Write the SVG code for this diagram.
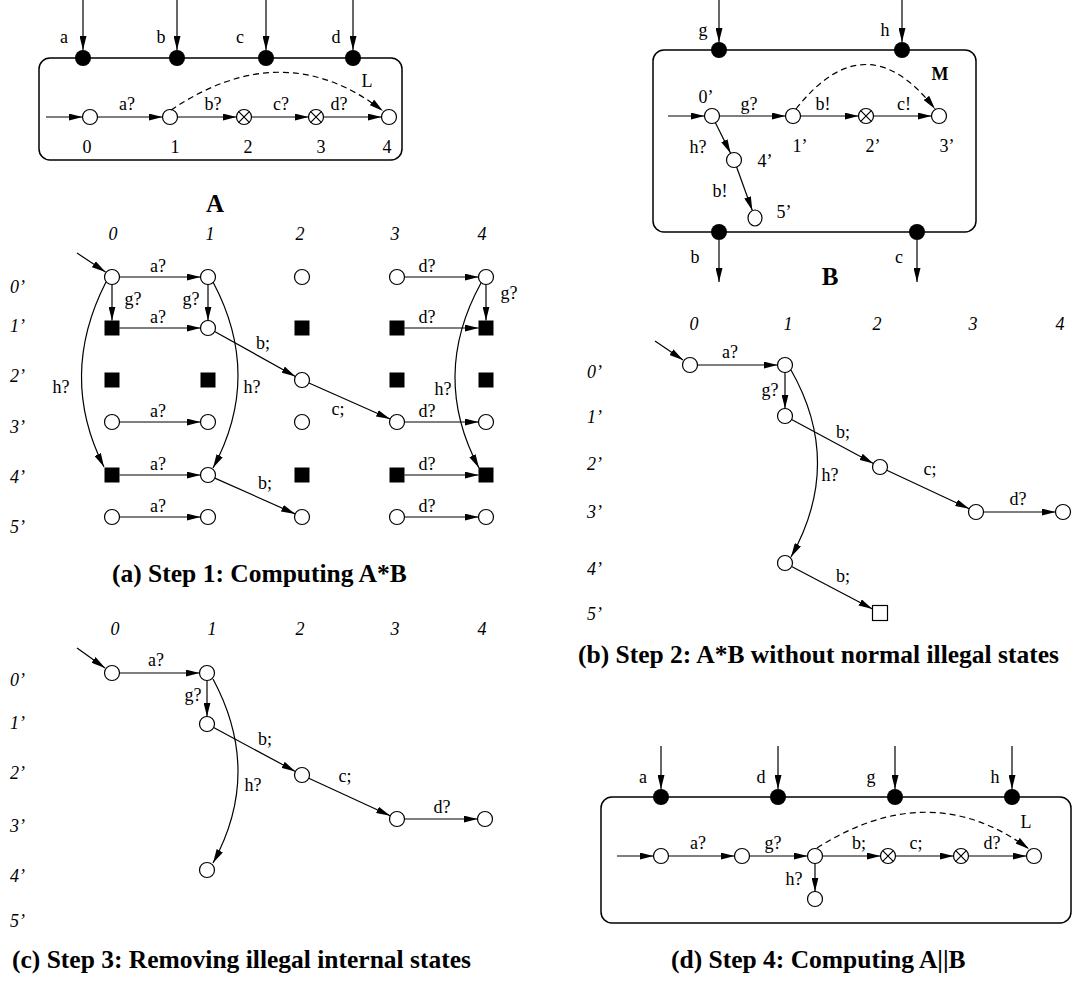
<svg xmlns="http://www.w3.org/2000/svg" width="1085" height="983" viewBox="0 0 1085 983">
<defs>
<marker id="ah" markerUnits="userSpaceOnUse" markerWidth="14" markerHeight="7" refX="14" refY="3.5" orient="auto"><path d="M0,0 L14,3.5 L0,7 z" fill="#000"/></marker>
<style>
.t{font-family:"Liberation Serif","Times New Roman",serif;font-size:18px;fill:#000;text-anchor:middle}
.st{text-anchor:start}
.i{font-style:italic}
.bd{font-weight:bold}
.big{font-size:25px;font-weight:bold}
.cap{font-family:"Liberation Serif","Times New Roman",serif;font-size:25.5px;font-weight:bold;fill:#000}
.box{fill:none;stroke:#000;stroke-width:1.5}
.e{fill:none;stroke:#000;stroke-width:1.2;marker-end:url(#ah)}
.dash{fill:none;stroke:#000;stroke-width:1.2;stroke-dasharray:6 4;marker-end:url(#ah)}
.s{fill:#fff;stroke:#000;stroke-width:1.2}
.f{fill:#000}
.x{fill:none;stroke:#000;stroke-width:1.2}
</style>
</defs>
<rect width="1085" height="983" fill="#fff"/>

<!-- ===== Box A ===== -->
<g id="boxA">
<rect class="box" x="39" y="58" width="363" height="102" rx="11"/>
<circle class="f" cx="83" cy="58" r="8"/><circle class="f" cx="177" cy="58" r="8"/><circle class="f" cx="266" cy="58" r="8"/><circle class="f" cx="353" cy="58" r="8"/>
</g>
<g id="A0"><circle class="s" cx="90" cy="117" r="7.5"/></g>
<g id="A1"><circle class="s" cx="170" cy="117" r="7.5"/></g>
<g id="A2"><circle class="s" cx="244" cy="117" r="7.5"/><path class="x" d="M238.7,111.7 L249.3,122.3 M238.7,122.3 L249.3,111.7"/></g>
<g id="A3"><circle class="s" cx="316" cy="117" r="7.5"/><path class="x" d="M310.7,111.7 L321.3,122.3 M310.7,122.3 L321.3,111.7"/></g>
<g id="A4"><circle class="s" cx="389" cy="117" r="7.5"/></g>

<!-- ===== Box B ===== -->
<g id="boxB">
<rect class="box" x="653" y="50" width="323" height="182" rx="11"/>
<circle class="f" cx="719" cy="50" r="8"/><circle class="f" cx="902" cy="50" r="8"/>
<circle class="f" cx="719" cy="232" r="8"/><circle class="f" cx="917" cy="232" r="8"/>
</g>
<g id="B0"><circle class="s" cx="712" cy="116" r="7.5"/></g>
<g id="B1"><circle class="s" cx="793" cy="116" r="7.5"/></g>
<g id="B2"><circle class="s" cx="866" cy="116" r="7.5"/><path class="x" d="M860.7,110.7 L871.3,121.3 M860.7,121.3 L871.3,110.7"/></g>
<g id="B3"><circle class="s" cx="939" cy="116" r="7.5"/></g>
<g id="B4"><circle class="s" cx="734" cy="160" r="7.5"/></g>
<g id="B5"><ellipse class="s" cx="755" cy="218" rx="7" ry="8"/></g>

<!-- ===== Grid (a) ===== -->
<g id="ga-nodes">
<g id="a00"><circle class="s" cx="112" cy="277" r="7.5"/></g>
<g id="a10"><circle class="s" cx="208" cy="277" r="7.5"/></g>
<g id="a20"><circle class="s" cx="302" cy="277" r="7.5"/></g>
<g id="a30"><circle class="s" cx="397" cy="277" r="7.5"/></g>
<g id="a40"><circle class="s" cx="486" cy="277" r="7.5"/></g>
<g id="a01"><rect class="f" x="104.5" y="320.5" width="15" height="15"/></g>
<g id="a11"><circle class="s" cx="208" cy="328" r="7.5"/></g>
<g id="a21"><rect class="f" x="294.5" y="320.5" width="15" height="15"/></g>
<g id="a31"><rect class="f" x="389.5" y="320.5" width="15" height="15"/></g>
<g id="a41"><rect class="f" x="478.5" y="320.5" width="15" height="15"/></g>
<g id="a02"><rect class="f" x="104.5" y="372.5" width="15" height="15"/></g>
<g id="a12"><rect class="f" x="200.5" y="372.5" width="15" height="15"/></g>
<g id="a22"><circle class="s" cx="302" cy="380" r="7.5"/></g>
<g id="a32"><rect class="f" x="389.5" y="372.5" width="15" height="15"/></g>
<g id="a42"><rect class="f" x="478.5" y="372.5" width="15" height="15"/></g>
<g id="a03"><circle class="s" cx="112" cy="422" r="7.5"/></g>
<g id="a13"><circle class="s" cx="208" cy="422" r="7.5"/></g>
<g id="a23"><circle class="s" cx="302" cy="422" r="7.5"/></g>
<g id="a33"><circle class="s" cx="397" cy="422" r="7.5"/></g>
<g id="a43"><circle class="s" cx="486" cy="422" r="7.5"/></g>
<g id="a04"><rect class="f" x="104.5" y="467.5" width="15" height="15"/></g>
<g id="a14"><circle class="s" cx="208" cy="475" r="7.5"/></g>
<g id="a24"><rect class="f" x="294.5" y="467.5" width="15" height="15"/></g>
<g id="a34"><rect class="f" x="389.5" y="467.5" width="15" height="15"/></g>
<g id="a44"><rect class="f" x="478.5" y="467.5" width="15" height="15"/></g>
<g id="a05"><circle class="s" cx="112" cy="517" r="7.5"/></g>
<g id="a15"><circle class="s" cx="208" cy="517" r="7.5"/></g>
<g id="a25"><circle class="s" cx="302" cy="517" r="7.5"/></g>
<g id="a35"><circle class="s" cx="397" cy="517" r="7.5"/></g>
<g id="a45"><circle class="s" cx="486" cy="517" r="7.5"/></g>
</g>

<!-- ===== Grid (b) ===== -->
<g id="gb-nodes">
<g id="b00"><circle class="s" cx="690" cy="365" r="7.5"/></g>
<g id="b10"><circle class="s" cx="785" cy="365" r="7.5"/></g>
<g id="b11"><circle class="s" cx="785" cy="416" r="7.5"/></g>
<g id="b22"><circle class="s" cx="880" cy="467" r="7.5"/></g>
<g id="b33"><circle class="s" cx="976" cy="512" r="7.5"/></g>
<g id="b43"><circle class="s" cx="1063" cy="512" r="7.5"/></g>
<g id="b14"><circle class="s" cx="785" cy="563" r="7.5"/></g>
<g id="b25"><rect class="s" x="872.5" y="605.5" width="15" height="15"/></g>
</g>

<!-- ===== Grid (c) ===== -->
<g id="gc-nodes">
<g id="c00"><circle class="s" cx="112" cy="673" r="7.5"/></g>
<g id="c10"><circle class="s" cx="207" cy="673" r="7.5"/></g>
<g id="c11"><circle class="s" cx="207" cy="724" r="7.5"/></g>
<g id="c22"><circle class="s" cx="302" cy="775" r="7.5"/></g>
<g id="c33"><circle class="s" cx="397" cy="819" r="7.5"/></g>
<g id="c43"><circle class="s" cx="485" cy="819" r="7.5"/></g>
<g id="c14"><circle class="s" cx="207" cy="870" r="7.5"/></g>
</g>

<!-- ===== Box (d) ===== -->
<g id="boxD">
<rect class="box" x="601" y="797" width="470" height="126" rx="11"/>
<circle class="f" cx="661" cy="797" r="8"/><circle class="f" cx="778" cy="797" r="8"/><circle class="f" cx="895" cy="797" r="8"/><circle class="f" cx="1012" cy="797" r="8"/>
</g>
<g id="d0"><circle class="s" cx="661" cy="856" r="7.5"/></g>
<g id="d1"><circle class="s" cx="742" cy="856" r="7.5"/></g>
<g id="d2"><circle class="s" cx="815" cy="856" r="7.5"/></g>
<g id="d3"><circle class="s" cx="888" cy="856" r="7.5"/><path class="x" d="M882.7,850.7 L893.3,861.3 M882.7,861.3 L893.3,850.7"/></g>
<g id="d4"><circle class="s" cx="961" cy="856" r="7.5"/><path class="x" d="M955.7,850.7 L966.3,861.3 M955.7,861.3 L966.3,850.7"/></g>
<g id="d5"><circle class="s" cx="1034" cy="856" r="7.5"/></g>
<g id="d6"><circle class="s" cx="815" cy="899" r="7.5"/></g>

<!-- ===== Connectors ===== -->
<g id="connectors">
<!-- A -->
<path class="e" d="M83,0 V50"/><path class="e" d="M177,0 V50"/><path class="e" d="M266,0 V50"/><path class="e" d="M353,0 V50"/>
<path class="e" d="M46,117 H82.5"/>
<path class="e" d="M97.5,117 H162.5"/>
<path class="e" d="M177.5,117 H236.5"/>
<path class="e" d="M251.5,117 H308.5"/>
<path class="e" d="M323.5,117 H381.5"/>
<path class="dash" d="M171,110 Q284,34 383,111"/>
<!-- B -->
<path class="e" d="M719,0 V42"/><path class="e" d="M902,0 V42"/>
<path class="e" d="M719,240 V282"/><path class="e" d="M917,240 V282"/>
<path class="e" d="M668,116 H704.5"/>
<path class="e" d="M719.5,116 H785.5"/>
<path class="e" d="M800.5,116 H858.5"/>
<path class="e" d="M873.5,116 H931.5"/>
<path class="e" d="M715.4,122.7 L730.6,153.3"/>
<path class="e" d="M736.6,167 L752.3,210.5"/>
<path class="dash" d="M796,109 Q866,20 935,109"/>
<!-- grid a -->
<path class="e" d="M77,253 L105.5,272"/>
<path class="e" d="M119.5,277 H200.5"/>
<path class="e" d="M119.5,328 H200.5"/>
<path class="e" d="M119.5,422 H200.5"/>
<path class="e" d="M119.5,475 H200.5"/>
<path class="e" d="M119.5,517 H200.5"/>
<path class="e" d="M112,284.5 V320.5"/>
<path class="e" d="M208,284.5 V320.5"/>
<path class="e" d="M106,282 Q58,376 104,467"/>
<path class="e" d="M213,282 Q263,376 213,468"/>
<path class="e" d="M214.6,331.6 L295.4,376.4"/>
<path class="e" d="M214.8,478.1 L295.2,513.9"/>
<path class="e" d="M308.9,383 L390.1,419"/>
<path class="e" d="M404.5,277 H478.5"/>
<path class="e" d="M404.5,328 H478.5"/>
<path class="e" d="M404.5,422 H478.5"/>
<path class="e" d="M404.5,475 H478.5"/>
<path class="e" d="M404.5,517 H478.5"/>
<path class="e" d="M486,284.5 V320.5"/>
<path class="e" d="M481,283 Q430,376 479,468"/>
<!-- grid b -->
<path class="e" d="M655,341 L683,360"/>
<path class="e" d="M697.5,365 H777.5"/>
<path class="e" d="M785,372.5 V408.5"/>
<path class="e" d="M791.6,419.5 L873.4,463.5"/>
<path class="e" d="M886.8,470.2 L969.2,508.8"/>
<path class="e" d="M983.5,512 H1055.5"/>
<path class="e" d="M791,370 Q844,463 791,557"/>
<path class="e" d="M791.6,566.5 L872.5,609"/>
<!-- grid c -->
<path class="e" d="M77,648 L105,668"/>
<path class="e" d="M119.5,673 H199.5"/>
<path class="e" d="M207,680.5 V716.5"/>
<path class="e" d="M213.6,727.5 L295.4,771.5"/>
<path class="e" d="M308.8,778.2 L390.2,815.8"/>
<path class="e" d="M404.5,819 H477.5"/>
<path class="e" d="M213,679 Q263,772 213,863"/>
<!-- d -->
<path class="e" d="M661,746 V789"/><path class="e" d="M778,746 V789"/><path class="e" d="M895,746 V789"/><path class="e" d="M1012,746 V789"/>
<path class="e" d="M617,856 H653.5"/>
<path class="e" d="M668.5,856 H734.5"/>
<path class="e" d="M749.5,856 H807.5"/>
<path class="e" d="M822.5,856 H880.5"/>
<path class="e" d="M895.5,856 H953.5"/>
<path class="e" d="M968.5,856 H1026.5"/>
<path class="e" d="M815,863.5 V891.5"/>
<path class="dash" d="M817,848 Q930,776 1029,849"/>
</g>

<!-- ===== Labels ===== -->
<g id="labelsA" class="t">
<text x="64" y="43">a</text><text x="161" y="43">b</text><text x="240" y="43">c</text><text x="336" y="43">d</text>
<text x="127" y="110">a?</text><text x="213" y="110">b?</text><text x="281" y="110">c?</text><text x="339" y="110">d?</text>
<text x="87" y="153">0</text><text x="175" y="153">1</text><text x="248" y="153">2</text><text x="321" y="153">3</text><text x="387" y="153">4</text>
<text x="367" y="87">L</text>
<text class="big" x="215" y="212">A</text>
</g>
<g id="labelsB" class="t">
<text x="703" y="36">g</text><text x="885" y="36">h</text><text x="695" y="263">b</text><text x="899" y="263">c</text>
<text x="706" y="103">0’</text><text x="749" y="110">g?</text><text x="823" y="110">b!</text><text x="904" y="110">c!</text>
<text x="800" y="152">1’</text><text x="873" y="152">2’</text><text x="947" y="152">3’</text>
<text x="698" y="153">h?</text><text x="765" y="167">4’</text><text x="720" y="197">b!</text><text x="784" y="218">5’</text>
<text class="bd" x="940" y="80">M</text>
<text class="big" x="830" y="285">B</text>
</g>
<g id="labelsGa" class="t">
<text class="i" x="113" y="240">0</text><text class="i" x="210" y="240">1</text><text class="i" x="300" y="240">2</text><text class="i" x="395" y="240">3</text><text class="i" x="482" y="240">4</text>
<text class="i st" x="10" y="293">0’</text><text class="i st" x="10" y="332">1’</text><text class="i st" x="10" y="382">2’</text><text class="i st" x="10" y="433">3’</text><text class="i st" x="10" y="483">4’</text><text class="i st" x="10" y="533">5’</text>
<text x="158" y="272">a?</text><text x="158" y="323">a?</text><text x="158" y="417">a?</text><text x="158" y="470">a?</text><text x="158" y="512">a?</text>
<text x="133" y="305">g?</text><text x="191" y="305">g?</text>
<text x="61" y="393">h?</text><text x="252" y="393">h?</text>
<text x="263" y="349">b;</text><text x="265" y="489">b;</text><text x="338" y="415">c;</text>
<text x="427" y="272">d?</text><text x="427" y="323">d?</text><text x="427" y="417">d?</text><text x="427" y="470">d?</text><text x="427" y="512">d?</text>
<text x="509" y="299">g?</text><text x="443" y="395">h?</text>
</g>
<g id="labelsGb" class="t">
<text class="i" x="694" y="330">0</text><text class="i" x="788" y="330">1</text><text class="i" x="877" y="330">2</text><text class="i" x="973" y="330">3</text><text class="i" x="1060" y="330">4</text>
<text class="i st" x="587" y="378">0’</text><text class="i st" x="587" y="423">1’</text><text class="i st" x="587" y="470">2’</text><text class="i st" x="587" y="518">3’</text><text class="i st" x="587" y="575">4’</text><text class="i st" x="587" y="620">5’</text>
<text x="730" y="358">a?</text><text x="770" y="396">g?</text><text x="843" y="438">b;</text><text x="930" y="475">c;</text><text x="1018" y="505">d?</text><text x="830" y="481">h?</text><text x="843" y="582">b;</text>
</g>
<g id="labelsGc" class="t">
<text class="i" x="115" y="635">0</text><text class="i" x="212" y="635">1</text><text class="i" x="300" y="635">2</text><text class="i" x="395" y="635">3</text><text class="i" x="482" y="635">4</text>
<text class="i st" x="10" y="686">0’</text><text class="i st" x="10" y="729">1’</text><text class="i st" x="10" y="779">2’</text><text class="i st" x="10" y="832">3’</text><text class="i st" x="10" y="882">4’</text><text class="i st" x="10" y="927">5’</text>
<text x="156" y="666">a?</text><text x="193" y="701">g?</text><text x="265" y="745">b;</text><text x="345" y="782">c;</text><text x="442" y="813">d?</text><text x="253" y="791">h?</text>
</g>
<g id="labelsD" class="t">
<text x="643" y="783">a</text><text x="761" y="783">d</text><text x="871" y="783">g</text><text x="995" y="783">h</text>
<text x="698" y="849">a?</text><text x="773" y="849">g?</text><text x="859" y="849">b;</text><text x="916" y="849">c;</text><text x="992" y="849">d?</text><text x="794" y="885">h?</text><text x="1026" y="828">L</text>
</g>
<g id="captions" class="cap">
<text x="112" y="582">(a) Step 1: Computing A*B</text>
<text x="578" y="663">(b) Step 2: A*B without normal illegal states</text>
<text x="12" y="968">(c) Step 3: Removing illegal internal states</text>
<text x="671" y="968">(d) Step 4: Computing A||B</text>
</g>
</svg>
